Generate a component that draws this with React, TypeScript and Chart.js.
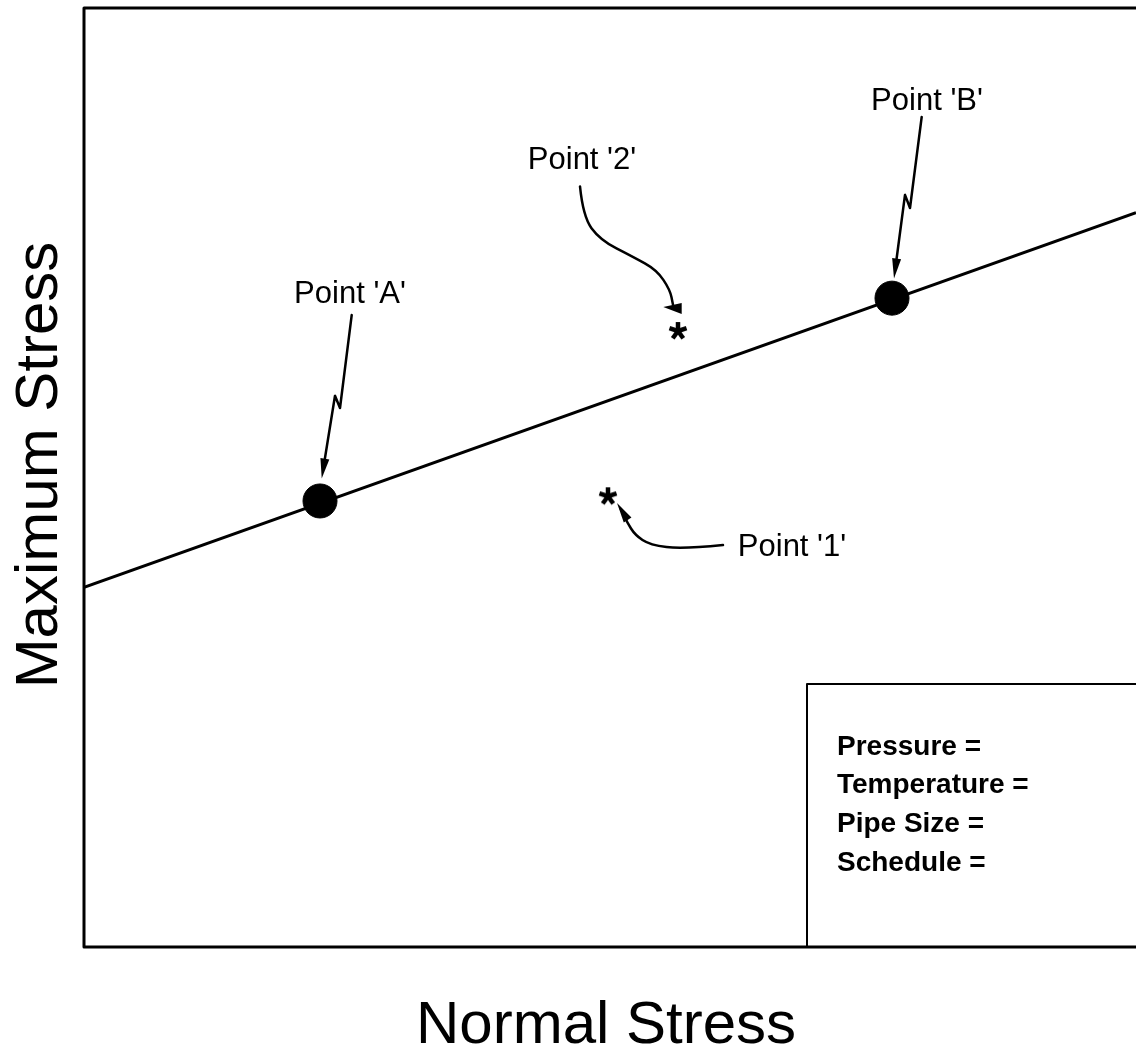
import React, { useEffect, useRef } from 'react';
import { Chart, registerables } from 'chart.js';

Chart.register(...registerables);

// ---- axes (schematic, no ticks) ----
const X_MIN = 0;
const X_MAX = 10.52;
const Y_MIN = 0;
const Y_MAX = 10;

const xAxisTitle = 'Normal Stress';
const yAxisTitle = 'Maximum Stress';

// ---- allowable-stress line ----
const limitLineX = [0, 10.52];
const limitLineY = [3.83, 7.82];

// ---- points on the line ----
const keyPointNames = ["Point 'A'", "Point 'B'"];
const keyPointX = [2.36, 8.08];
const keyPointY = [4.75, 6.91];

// ---- test points ----
const testPointNames = ["Point '1'", "Point '2'"];
const testPointX = [5.24, 5.94];
const testPointY = [4.80, 6.56];

// ---- label anchors (data units, centre of text) ----
const labelTexts = ["Point 'A'", "Point 'B'", "Point '2'", "Point '1'"];
const labelX = [2.66, 8.43, 4.98, 7.08];
const labelY = [6.95, 9.0, 8.38, 4.26];

// ---- leader arrows (data units) ----
const arrowAPath: [number, number][] = [[2.677, 6.73], [2.56, 5.74], [2.51, 5.87], [2.377, 4.99]];
const arrowBPath: [number, number][] = [[8.377, 8.84], [8.26, 7.87], [8.21, 8.01], [8.10, 7.12]];
const curve2Path: [number, number][] = [[4.96, 8.10], [4.99, 7.78], [5.16, 7.53], [5.49, 7.35], [5.727, 7.21], [5.86, 7.0], [5.89, 6.84]];
const head2Tri: [number, number][] = [[5.793, 6.816], [5.977, 6.858], [5.977, 6.741]];
const curve1Path: [number, number][] = [[6.39, 4.281], [5.99, 4.239], [5.66, 4.281], [5.51, 4.388], [5.43, 4.526], [5.37, 4.66]];
const head1Tip: [number, number] = [5.33, 4.728];

// ---- info box ----
const infoLabels = ['Pressure =', 'Temperature =', 'Pipe Size =', 'Schedule ='];
const infoBoxLeft = 7.23;
const infoBoxTop = 2.80;
const infoTextX = 7.53;
const infoTextY = [2.05, 1.635, 1.22, 0.805];

const FONT = "'Liberation Sans', Arial, Helvetica, sans-serif";

function makeAsterisk(): HTMLCanvasElement {
  const c = document.createElement('canvas');
  c.width = 22;
  c.height = 22;
  const g = c.getContext('2d')!;
  g.strokeStyle = '#000';
  g.lineWidth = 4.5;
  g.lineCap = 'butt';
  const cx = 11, cy = 11, r = 9;
  for (let i = 0; i < 5; i++) {
    const a = -Math.PI / 2 + (i * 2 * Math.PI) / 5;
    g.beginPath();
    g.moveTo(cx, cy);
    g.lineTo(cx + r * Math.cos(a), cy + r * Math.sin(a));
    g.stroke();
  }
  return c;
}

const annotPlugin = {
  id: 'annot',
  afterDatasetsDraw(chart: any) {
    const { ctx, chartArea, scales } = chart;
    const px = (v: number) => scales.x.getPixelForValue(v);
    const py = (v: number) => scales.y.getPixelForValue(v);
    ctx.save();
    ctx.strokeStyle = '#000';
    ctx.fillStyle = '#000';
    ctx.lineCap = 'round';
    ctx.lineJoin = 'round';

    // frame (left, top, bottom)
    ctx.lineWidth = 3;
    ctx.beginPath();
    ctx.moveTo(chartArea.right + 5, chartArea.top);
    ctx.lineTo(chartArea.left, chartArea.top);
    ctx.lineTo(chartArea.left, chartArea.bottom);
    ctx.lineTo(chartArea.right + 5, chartArea.bottom);
    ctx.stroke();

    // info box
    ctx.lineWidth = 2;
    ctx.beginPath();
    ctx.moveTo(px(infoBoxLeft), chartArea.bottom);
    ctx.lineTo(px(infoBoxLeft), py(infoBoxTop));
    ctx.lineTo(chartArea.right + 5, py(infoBoxTop));
    ctx.stroke();
    ctx.font = `bold 28px ${FONT}`;
    ctx.textAlign = 'left';
    ctx.textBaseline = 'alphabetic';
    infoLabels.forEach((t, i) => ctx.fillText(t, px(infoTextX), py(infoTextY[i])));

    // labels
    ctx.font = `31px ${FONT}`;
    ctx.textAlign = 'center';
    ctx.textBaseline = 'middle';
    labelTexts.forEach((t, i) => ctx.fillText(t, px(labelX[i]), py(labelY[i])));

    const head = (tip: [number, number], from: [number, number], len: number, hw: number) => {
      const tx = px(tip[0]), ty = py(tip[1]);
      const fx = px(from[0]), fy = py(from[1]);
      const d = Math.hypot(tx - fx, ty - fy);
      const ux = (tx - fx) / d, uy = (ty - fy) / d;
      const bx = tx - ux * len, by = ty - uy * len;
      ctx.beginPath();
      ctx.moveTo(tx, ty);
      ctx.lineTo(bx - uy * hw, by + ux * hw);
      ctx.lineTo(bx + uy * hw, by - ux * hw);
      ctx.closePath();
      ctx.fill();
    };

    const poly = (pts: [number, number][], stopShort: number) => {
      ctx.beginPath();
      pts.forEach((p, i) => {
        let x = px(p[0]), y = py(p[1]);
        if (i === pts.length - 1 && stopShort > 0) {
          const q = pts[i - 1];
          const qx = px(q[0]), qy = py(q[1]);
          const d = Math.hypot(x - qx, y - qy);
          x = x - ((x - qx) / d) * stopShort;
          y = y - ((y - qy) / d) * stopShort;
        }
        if (i === 0) ctx.moveTo(x, y);
        else ctx.lineTo(x, y);
      });
      ctx.stroke();
    };

    const smooth = (pts: [number, number][]) => {
      const P = pts.map((p) => [px(p[0]), py(p[1])]);
      ctx.beginPath();
      ctx.moveTo(P[0][0], P[0][1]);
      for (let i = 1; i < P.length - 1; i++) {
        const mx = (P[i][0] + P[i + 1][0]) / 2;
        const my = (P[i][1] + P[i + 1][1]) / 2;
        ctx.quadraticCurveTo(P[i][0], P[i][1], mx, my);
      }
      const L = P[P.length - 1];
      ctx.lineTo(L[0], L[1]);
      ctx.stroke();
    };

    ctx.lineWidth = 2.5;
    // A & B lightning leaders
    poly(arrowAPath, 10);
    head(arrowAPath[3], arrowAPath[2], 20, 4.5);
    poly(arrowBPath, 10);
    head(arrowBPath[3], arrowBPath[2], 20, 4.5);

    // curved leaders
    smooth(curve2Path);
    ctx.beginPath();
    head2Tri.forEach((p, i) => (i === 0 ? ctx.moveTo(px(p[0]), py(p[1])) : ctx.lineTo(px(p[0]), py(p[1]))));
    ctx.closePath();
    ctx.fill();

    smooth(curve1Path);
    head(head1Tip, curve1Path[curve1Path.length - 1], 20, 4.5);

    // axis titles
    ctx.font = `60px ${FONT}`;
    ctx.textAlign = 'center';
    ctx.textBaseline = 'alphabetic';
    ctx.fillText(xAxisTitle, 606, 1043);
    ctx.save();
    ctx.translate(57, 465);
    ctx.rotate(-Math.PI / 2);
    ctx.fillText(yAxisTitle, 0, 0);
    ctx.restore();

    ctx.restore();
  },
};

export default function App() {
  const ref = useRef<HTMLCanvasElement>(null);
  useEffect(() => {
    const canvas = ref.current!;
    const star = makeAsterisk();
    const chart = new Chart(canvas, {
      type: 'scatter',
      data: {
        datasets: [
          {
            label: 'Allowable',
            type: 'line',
            data: limitLineX.map((x, i) => ({ x, y: limitLineY[i] })),
            borderColor: '#000',
            borderWidth: 3,
            pointRadius: 0,
            showLine: true,
            fill: false,
          } as any,
          {
            label: 'Key points',
            data: keyPointX.map((x, i) => ({ x, y: keyPointY[i], name: keyPointNames[i] })),
            backgroundColor: '#000',
            borderColor: '#000',
            pointRadius: 17,
            pointHoverRadius: 17,
          },
          {
            label: 'Test points',
            data: testPointX.map((x, i) => ({ x, y: testPointY[i], name: testPointNames[i] })),
            pointStyle: star as any,
            pointRadius: 9,
          },
        ],
      },
      options: {
        animation: false,
        responsive: false,
        events: [],
        layout: { autoPadding: false, padding: { left: 84, top: 8, right: 0, bottom: 99 } },
        plugins: { legend: { display: false }, tooltip: { enabled: false } },
        scales: {
          x: { type: 'linear', min: X_MIN, max: X_MAX, display: false },
          y: { type: 'linear', min: Y_MIN, max: Y_MAX, display: false },
        },
      },
      plugins: [annotPlugin],
    });
    return () => chart.destroy();
  }, []);
  return (
    <div style={{ position: 'absolute', left: 0, top: 0, width: 1136, height: 1046, background: '#fff', overflow: 'hidden' }}>
      <canvas ref={ref} width={1136} height={1046} style={{ display: 'block' }} />
    </div>
  );
}
